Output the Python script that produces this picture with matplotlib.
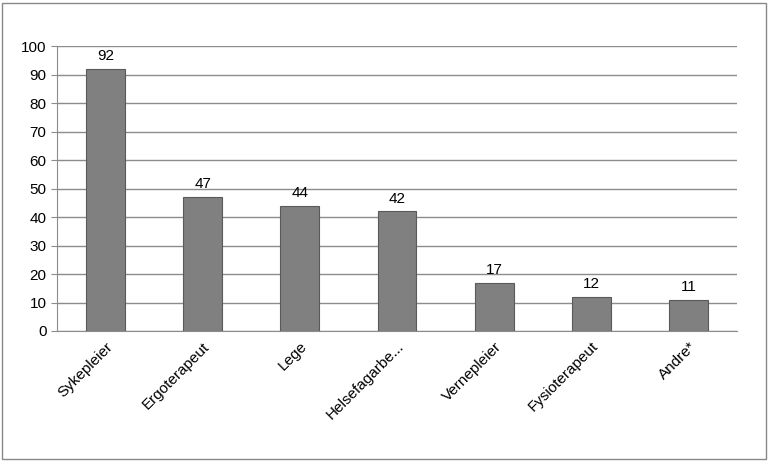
import matplotlib
matplotlib.use("Agg")
import matplotlib.pyplot as plt
from matplotlib.patches import Rectangle

categories = ["Sykepleier", "Ergoterapeut", "Lege", "Helsefagarbe...", "Vernepleier", "Fysioterapeut", "Andre*"]
values = [92, 47, 44, 42, 17, 12, 11]
yticks = list(range(0, 101, 10))

fig = plt.figure(figsize=(7.68, 4.61), dpi=100)
fig.patches.append(Rectangle((0.003, 0.004), 0.994, 0.99, transform=fig.transFigure,
                             fill=False, edgecolor="#888888", linewidth=1))
ax = fig.add_axes([0.074, 0.282, 0.886, 0.618])
x = range(len(categories))
bars = ax.bar(x, values, width=0.4, color="#808080", edgecolor="#5a5a5a", linewidth=0.8, zorder=3)
for xi, v in zip(x, values):
    ax.text(xi, v + 2, str(v), ha="center", va="bottom", fontsize=11, family="Liberation Sans")
ax.set_ylim(0, 100)
ax.set_xlim(-0.5, len(categories) - 0.5)
ax.set_yticks(yticks)
ax.set_yticklabels([str(t) for t in yticks], fontsize=11, family="Liberation Sans")
ax.set_xticks(list(x))
ax.set_xticklabels(categories, rotation=45, ha="right", rotation_mode="anchor", fontsize=11, family="Liberation Sans")
ax.grid(axis="y", color="#8c8c8c", linewidth=1, zorder=0)
for s in ["top", "right"]:
    ax.spines[s].set_visible(False)
ax.spines["left"].set_color("#8c8c8c")
ax.spines["bottom"].set_color("#8c8c8c")
ax.tick_params(axis="x", length=0, pad=6)
ax.tick_params(axis="y", length=4, color="#8c8c8c")
fig.savefig("out.png", dpi=100)
